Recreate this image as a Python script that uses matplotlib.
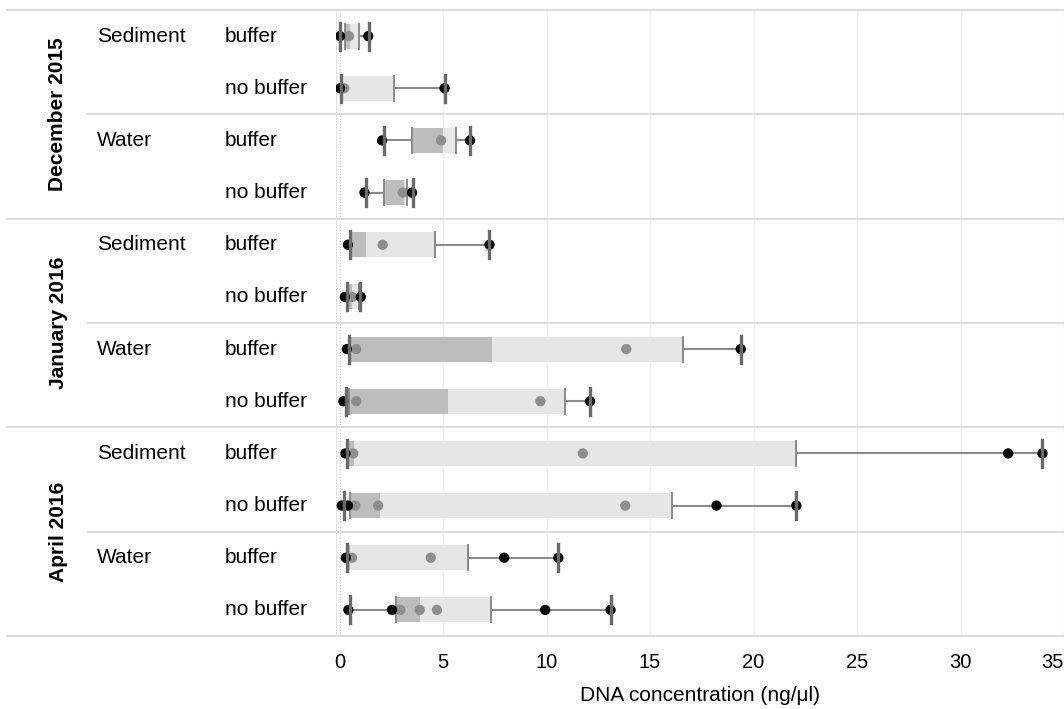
import matplotlib
matplotlib.use('Agg')
import matplotlib.pyplot as plt
from matplotlib.patches import Rectangle
from matplotlib.lines import Line2D

plt.rcParams['font.family'] = ['Liberation Sans', 'DejaVu Sans']

# one row per (month, sample, treatment)
months = ['December 2015', 'January 2016', 'April 2016']
samples = ['Sediment', 'Water']
treatments = ['buffer', 'no buffer']

whisker_lo = [0.03, 0.08, 2.12, 1.28, 0.52, 0.36, 0.45, 0.30, 0.35, 0.22, 0.35, 0.50]
q1 = [0.28, 0.10, 3.50, 2.16, 0.52, 0.38, 0.47, 0.47, 0.38, 0.50, 0.36, 2.72]
median = [0.50, 0.10, 5.00, 3.10, 1.28, 0.60, 7.37, 5.24, 0.70, 1.94, 0.50, 3.87]
q3 = [0.92, 2.62, 5.60, 3.26, 4.63, 0.95, 16.60, 10.90, 22.07, 16.04, 6.20, 7.33]
whisker_hi = [1.40, 5.07, 6.29, 3.55, 7.24, 0.97, 19.38, 12.10, 33.96, 22.07, 10.57, 13.09]

points = [
    [0.02, 0.45, 1.38],
    [0.02, 0.22, 5.07],
    [2.05, 4.90, 6.30],
    [1.20, 3.05, 3.50],
    [0.40, 2.08, 7.24],
    [0.25, 0.60, 1.02],
    [0.35, 0.80, 13.85, 19.38],
    [0.18, 0.80, 9.70, 12.10],
    [0.28, 0.66, 11.75, 32.30, 33.96],
    [0.10, 0.40, 0.75, 1.86, 13.80, 18.21, 22.07],
    [0.30, 0.60, 4.40, 7.95, 10.57],
    [0.42, 2.53, 2.93, 3.87, 4.70, 9.93, 13.09],
]

xticks = [0, 5, 10, 15, 20, 25, 30, 35]

W, H = 1064, 709
LIGHT = '#e6e6e6'
DARK = '#bdbdbd'
LINE = '#8a8a8a'
CAP = '#6a6a6a'
SEP = '#dcdcdc'


def px(x):
    return x / W


def py(y):
    return 1 - y / H


fig = plt.figure(figsize=(W / 100, H / 100), dpi=100)
top, bottom = 10, 636
ax = fig.add_axes([px(335.5), py(bottom), 1 - px(335.5), (bottom - top) / H])

n = len(q1)
ax.set_xlim(-0.2, 35)
ax.set_ylim(n, 0)

for s in ax.spines.values():
    s.set_visible(False)
ax.axvline(-0.2, color=SEP, lw=1.2, zorder=0)
for t in xticks[1:]:
    ax.axvline(t, color='#efefef', lw=1, zorder=0)
ax.axvline(0, color='#c8c8c8', lw=0.8, ls=(0, (1, 1.5)), zorder=0)

bh = 0.48
for i in range(n):
    yc = i + 0.5
    ax.plot([whisker_lo[i], whisker_hi[i]], [yc, yc], color=LINE, lw=1.5, zorder=1)
    ax.add_patch(Rectangle((q1[i], yc - bh / 2), q3[i] - q1[i], bh, facecolor=LIGHT, edgecolor='none', zorder=2))
    ax.add_patch(Rectangle((q1[i], yc - bh / 2), median[i] - q1[i], bh, facecolor=DARK, edgecolor='none', zorder=2))
    for v in (q1[i], q3[i]):
        ax.plot([v, v], [yc - bh / 2, yc + bh / 2], color=LINE, lw=1.4, zorder=3)
    inner = [v for v in points[i] if q1[i] <= v <= q3[i]]
    outer = [v for v in points[i] if not (q1[i] <= v <= q3[i])]
    ax.scatter(inner, [yc] * len(inner), s=55, color='#8e8e8e', edgecolors='none', zorder=4)
    ax.scatter(outer, [yc] * len(outer), s=55, color='#050505', edgecolors='none', zorder=4)
    for v in (whisker_lo[i], whisker_hi[i]):
        ax.plot([v, v], [yc - 0.26, yc + 0.26], color=CAP, lw=2.4, zorder=5)

ax.set_yticks([])
ax.set_xticks(xticks)
ax.set_xticklabels([str(t) for t in xticks], fontsize=14.5)
ax.get_xticklabels()[-1].set_horizontalalignment('right')
ax.tick_params(axis='x', length=0, pad=12)
ax.set_xlabel('DNA concentration (ng/μl)', fontsize=15, labelpad=10)

# row labels and separators
row_h = (bottom - top) / n
fig.add_artist(Line2D([px(7), 1], [py(top), py(top)], color=SEP, lw=1.5))
i = 0
for m in months:
    g_top = top + i * row_h
    for s in samples:
        s_top = top + i * row_h
        fig.text(px(97), py(s_top + row_h / 2), s, fontsize=15, va='center', ha='left')
        for t in treatments:
            fig.text(px(225), py(top + (i + 0.5) * row_h), t, fontsize=15, va='center', ha='left')
            i += 1
        yb = top + i * row_h
        if s != samples[-1]:
            fig.add_artist(Line2D([px(88), 1], [py(yb), py(yb)], color=SEP, lw=1.5))
    yb = top + i * row_h
    fig.add_artist(Line2D([px(7), 1], [py(yb), py(yb)], color=SEP, lw=1.5))
    fig.text(px(58), py((g_top + yb) / 2), m, fontsize=15, fontweight='bold',
             rotation=90, va='center', ha='center')

fig.savefig('out.png', dpi=100)
